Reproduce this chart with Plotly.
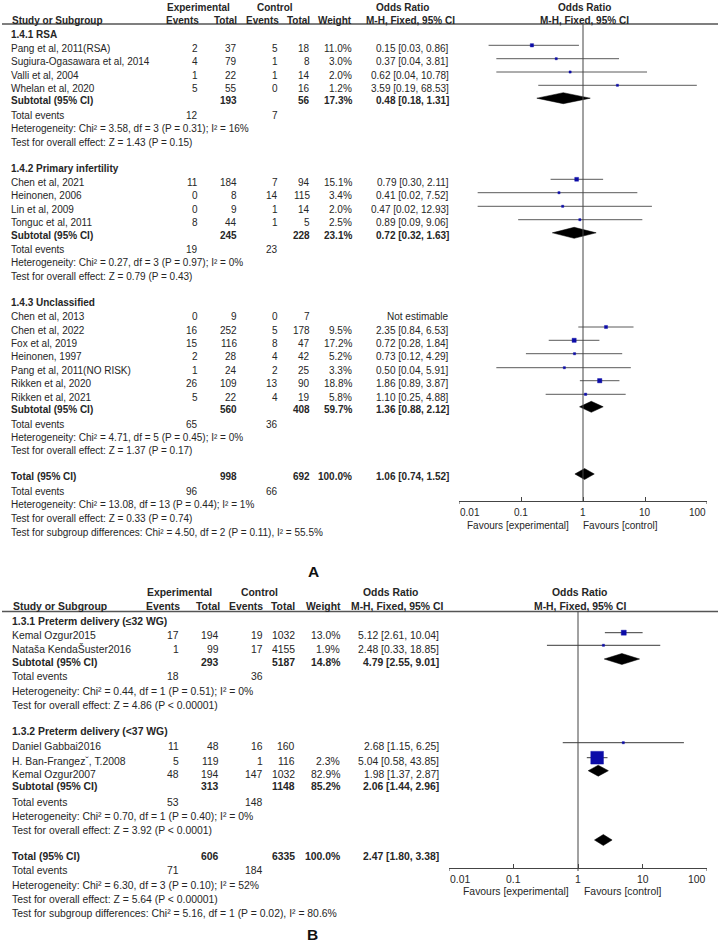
import math
import plotly.graph_objects as go

W, H = 720, 948
FONT = "Liberation Sans, Arial, sans-serif"
TXT = "#262626"
BLUE = "#0c0ca8"

# ======================= DATA: Panel A =======================
A_groups = ["1.4.1 RSA", "1.4.2 Primary infertility", "1.4.3 Unclassified"]
A_study = ["Pang et al, 2011(RSA)", "Sugiura-Ogasawara et al, 2014", "Valli et al, 2004", "Whelan et al, 2020",
           "Chen et al, 2021", "Heinonen, 2006", "Lin et al, 2009", "Tonguc et al, 2011",
           "Chen et al, 2013", "Chen et al, 2022", "Fox et al, 2019", "Heinonen, 1997",
           "Pang et al, 2011(NO RISK)", "Rikken et al, 2020", "Rikken et al, 2021"]
A_group_of = [0, 0, 0, 0, 1, 1, 1, 1, 2, 2, 2, 2, 2, 2, 2]
A_exp_ev = [2, 4, 1, 5, 11, 0, 0, 8, 0, 16, 15, 2, 1, 26, 5]
A_exp_tot = [37, 79, 22, 55, 184, 8, 9, 44, 9, 252, 116, 28, 24, 109, 22]
A_ctl_ev = [5, 1, 1, 0, 7, 14, 1, 1, 0, 5, 8, 4, 2, 13, 4]
A_ctl_tot = [18, 8, 14, 16, 94, 115, 14, 5, 7, 178, 47, 42, 25, 90, 19]
A_weight = [11.0, 3.0, 2.0, 1.2, 15.1, 3.4, 2.0, 2.5, None, 9.5, 17.2, 5.2, 3.3, 18.8, 5.8]
A_or = [0.15, 0.37, 0.62, 3.59, 0.79, 0.41, 0.47, 0.89, None, 2.35, 0.72, 0.73, 0.50, 1.86, 1.10]
A_lo = [0.03, 0.04, 0.04, 0.19, 0.30, 0.02, 0.02, 0.09, None, 0.84, 0.28, 0.12, 0.04, 0.89, 0.25]
A_hi = [0.86, 3.81, 10.78, 68.53, 2.11, 7.52, 12.93, 9.06, None, 6.53, 1.84, 4.29, 5.91, 3.87, 4.88]

A_sub_exp_tot = [193, 245, 560]
A_sub_ctl_tot = [56, 228, 408]
A_sub_weight = [17.3, 23.1, 59.7]
A_sub_or = [0.48, 0.72, 1.36]
A_sub_lo = [0.18, 0.32, 0.88]
A_sub_hi = [1.31, 1.63, 2.12]
A_sub_exp_ev = [12, 19, 65]
A_sub_ctl_ev = [7, 23, 36]
A_sub_het = ["Heterogeneity: Chi² = 3.58, df = 3 (P = 0.31); I² = 16%",
             "Heterogeneity: Chi² = 0.27, df = 3 (P = 0.97); I² = 0%",
             "Heterogeneity: Chi² = 4.71, df = 5 (P = 0.45); I² = 0%"]
A_sub_z = ["Test for overall effect: Z = 1.43 (P = 0.15)",
           "Test for overall effect: Z = 0.79 (P = 0.43)",
           "Test for overall effect: Z = 1.37 (P = 0.17)"]
A_total = [998, 692, 100.0]          # exp total, ctl total, weight
A_total_ci = [1.06, 0.74, 1.52]
A_total_events = [96, 66]
A_total_het = "Heterogeneity: Chi² = 13.08, df = 13 (P = 0.44); I² = 1%"
A_total_z = "Test for overall effect: Z = 0.33 (P = 0.74)"
A_total_sub = "Test for subgroup differences: Chi² = 4.50, df = 2 (P = 0.11), I² = 55.5%"

# ======================= DATA: Panel B =======================
B_groups = ["1.3.1 Preterm delivery (≤32 WG)", "1.3.2 Preterm delivery (&lt;37 WG)"]
B_study = ["Kemal Ozgur2015", "Nataša KendaŠuster2016", "Daniel Gabbai2016",
           "H. Ban-Frangezˇ, T.2008", "Kemal Ozgur2007"]
B_group_of = [0, 0, 1, 1, 1]
B_exp_ev = [17, 1, 11, 5, 48]
B_exp_tot = [194, 99, 48, 119, 194]
B_ctl_ev = [19, 17, 16, 1, 147]
B_ctl_tot = [1032, 4155, 160, 116, 1032]
B_weight = [13.0, 1.9, None, 2.3, 82.9]
B_or = [5.12, 2.48, 2.68, 5.04, 1.98]
B_lo = [2.61, 0.33, 1.15, 0.58, 1.37]
B_hi = [10.04, 18.85, 6.25, 43.85, 2.87]

B_sub_exp_tot = [293, 313]
B_sub_ctl_tot = [5187, 1148]
B_sub_weight = [14.8, 85.2]
B_sub_or = [4.79, 2.06]
B_sub_lo = [2.55, 1.44]
B_sub_hi = [9.01, 2.96]
B_sub_exp_ev = [18, 53]
B_sub_ctl_ev = [36, 148]
B_sub_het = ["Heterogeneity: Chi² = 0.44, df = 1 (P = 0.51); I² = 0%",
             "Heterogeneity: Chi² = 0.70, df = 1 (P = 0.40); I² = 0%"]
B_sub_z = ["Test for overall effect: Z = 4.86 (P &lt; 0.00001)",
           "Test for overall effect: Z = 3.92 (P &lt; 0.0001)"]
B_total = [606, 6335, 100.0]
B_total_ci = [2.47, 1.80, 3.38]
B_total_events = [71, 184]
B_total_het = "Heterogeneity: Chi² = 6.30, df = 3 (P = 0.10); I² = 52%"
B_total_z = "Test for overall effect: Z = 5.64 (P &lt; 0.00001)"
B_total_sub = "Test for subgroup differences: Chi² = 5.16, df = 1 (P = 0.02), I² = 80.6%"
# squares as drawn in panel B (study indices shown in the plot)
B_plot_idx = [0, 1, 3, 4]

# axis ticks
TICK_VALS = [0.01, 0.1, 1, 10, 100]
TICK_TEXT = ["0.01", "0.1", "1", "10", "100"]

# ======================= LAYOUT POSITIONS (pixels) =======================
A_y_head = [7, 20.5]
A_rule = 24
A_y_group = [34, 168.3, 302.3]
A_y_study = [48.3, 61.7, 75, 88.3, 182.3, 195.7, 209.3, 222.7,
             316, 330, 343.3, 356.7, 370.7, 383.7, 397.3]
A_y_sub = [100.7, 235.3, 409.3]
A_y_events = [115.3, 249.3, 424]
A_y_het = [128.7, 262.7, 437.3]
A_y_z = [142.7, 276.7, 450.7]
A_y_total = [476, 491, 504.3, 518.3, 532.3]
A_col = dict(name=10, ee=198.5, et=238, ce=279, ct=310.5, w=352.5, orr=449.5)
A_axis_y = 501
A_dom = [459, 707]

B_y_head = [592.7, 606.5]
B_rule = 611.5
B_y_group = [621.7, 731]
B_y_study = [635, 649.3, 746, 761, 774.3]
B_y_sub = [662.3, 786.7]
B_y_events = [676.7, 802.3]
B_y_het = [691, 816]
B_y_z = [705, 830]
B_y_total = [856.7, 870.7, 885, 899, 913.3]
B_col = dict(name=11, ee=180, et=220, ce=263.5, ct=295.5, w=340.5, orr=439.5)
B_axis_y = 868
B_dom = [449, 707]
B_mark_y = [632.7, 645.3, 742.7, 757.7]
B_diam_y = [659, 770.7]
B_total_diam_y = 840

FS_A = 10.0
FS_B = 10.4

ann = []


def T(x, y, s, anchor="left", size=FS_A, bold=False, color=TXT):
    ann.append(dict(x=x / W, y=y, xref="paper", yref="y",
                    text=f"<b>{s}</b>" if bold else s, showarrow=False,
                    xanchor=anchor, yanchor="middle", borderpad=0,
                    font=dict(family=FONT, size=size, color=color)))


def fmt_ci(o, l, h):
    return f"{o:.2f} [{l:.2f}, {h:.2f}]"


def fmt_w(w):
    return f"{w:.1f}%"


def panel_text(P):
    c, fs = P["col"], P["fs"]
    y1, y2 = P["y_head"]
    T(P["hx"]["exp"], y1, "Experimental", "center", fs, True)
    T(P["hx"]["ctl"], y1, "Control", "center", fs, True)
    T(P["hx"]["or1"], y1, "Odds Ratio", "center", fs, True)
    T(P["hx"]["plot"], y1, "Odds Ratio", "center", fs, True)
    T(c["name"] + 1, y2, "Study or Subgroup", "left", fs, True)
    T(P["hx"]["ee"], y2, "Events", "right", fs, True)
    T(P["hx"]["et"], y2, "Total", "right", fs, True)
    T(P["hx"]["ce"], y2, "Events", "right", fs, True)
    T(P["hx"]["ct"], y2, "Total", "right", fs, True)
    T(P["hx"]["w"], y2, "Weight", "right", fs, True)
    T(P["hx"]["or2"], y2, "M-H, Fixed, 95% CI", "center", fs, True)
    T(P["hx"]["plot2"], y2, "M-H, Fixed, 95% CI", "center", fs, True)
    D = P["data"]
    for g, gname in enumerate(D["groups"]):
        T(c["name"], P["y_group"][g], gname, "left", fs, True)
        for i, s in enumerate(D["study"]):
            if D["group_of"][i] != g:
                continue
            y = P["y_study"][i]
            T(c["name"], y, s, "left", fs)
            T(c["ee"], y, str(D["exp_ev"][i]), "right", fs)
            T(c["et"], y, str(D["exp_tot"][i]), "right", fs)
            T(c["ce"], y, str(D["ctl_ev"][i]), "right", fs)
            T(c["ct"], y, str(D["ctl_tot"][i]), "right", fs)
            if D["weight"][i] is not None:
                T(c["w"], y, fmt_w(D["weight"][i]), "right", fs)
            if D["or"][i] is None:
                T(c["orr"], y, "Not estimable", "right", fs)
            else:
                T(c["orr"], y, fmt_ci(D["or"][i], D["lo"][i], D["hi"][i]), "right", fs)
        y = P["y_sub"][g]
        T(c["name"], y, "Subtotal (95% CI)", "left", fs, True)
        T(c["et"], y, str(D["sub_exp_tot"][g]), "right", fs, True)
        T(c["ct"], y, str(D["sub_ctl_tot"][g]), "right", fs, True)
        T(c["w"], y, fmt_w(D["sub_weight"][g]), "right", fs, True)
        T(c["orr"], y, fmt_ci(D["sub_or"][g], D["sub_lo"][g], D["sub_hi"][g]), "right", fs, True)
        y = P["y_events"][g]
        T(c["name"], y, "Total events", "left", fs)
        T(c["ee"], y, str(D["sub_exp_ev"][g]), "right", fs)
        T(c["ce"], y, str(D["sub_ctl_ev"][g]), "right", fs)
        T(c["name"], P["y_het"][g], D["sub_het"][g], "left", fs)
        T(c["name"], P["y_z"][g], D["sub_z"][g], "left", fs)
    yt = P["y_total"]
    T(c["name"], yt[0], "Total (95% CI)", "left", fs, True)
    T(c["et"], yt[0], str(D["total"][0]), "right", fs, True)
    T(c["ct"], yt[0], str(D["total"][1]), "right", fs, True)
    T(c["w"], yt[0], fmt_w(D["total"][2]), "right", fs, True)
    T(c["orr"], yt[0], fmt_ci(*D["total_ci"]), "right", fs, True)
    T(c["name"], yt[1], "Total events", "left", fs)
    T(c["ee"], yt[1], str(D["total_events"][0]), "right", fs)
    T(c["ce"], yt[1], str(D["total_events"][1]), "right", fs)
    T(c["name"], yt[2], D["total_het"], "left", fs)
    T(c["name"], yt[3], D["total_z"], "left", fs)
    T(c["name"], yt[4], D["total_sub"], "left", fs)


DA = dict(groups=A_groups, study=A_study, group_of=A_group_of, exp_ev=A_exp_ev, exp_tot=A_exp_tot,
          ctl_ev=A_ctl_ev, ctl_tot=A_ctl_tot, weight=A_weight, **{"or": A_or}, lo=A_lo, hi=A_hi,
          sub_exp_tot=A_sub_exp_tot, sub_ctl_tot=A_sub_ctl_tot, sub_weight=A_sub_weight,
          sub_or=A_sub_or, sub_lo=A_sub_lo, sub_hi=A_sub_hi, sub_exp_ev=A_sub_exp_ev,
          sub_ctl_ev=A_sub_ctl_ev, sub_het=A_sub_het, sub_z=A_sub_z, total=A_total,
          total_ci=A_total_ci, total_events=A_total_events, total_het=A_total_het,
          total_z=A_total_z, total_sub=A_total_sub)
DB = dict(groups=B_groups, study=B_study, group_of=B_group_of, exp_ev=B_exp_ev, exp_tot=B_exp_tot,
          ctl_ev=B_ctl_ev, ctl_tot=B_ctl_tot, weight=B_weight, **{"or": B_or}, lo=B_lo, hi=B_hi,
          sub_exp_tot=B_sub_exp_tot, sub_ctl_tot=B_sub_ctl_tot, sub_weight=B_sub_weight,
          sub_or=B_sub_or, sub_lo=B_sub_lo, sub_hi=B_sub_hi, sub_exp_ev=B_sub_exp_ev,
          sub_ctl_ev=B_sub_ctl_ev, sub_het=B_sub_het, sub_z=B_sub_z, total=B_total,
          total_ci=B_total_ci, total_events=B_total_events, total_het=B_total_het,
          total_z=B_total_z, total_sub=B_total_sub)

PA = dict(data=DA, col=A_col, fs=FS_A, y_head=A_y_head, y_group=A_y_group, y_study=A_y_study,
          y_sub=A_y_sub, y_events=A_y_events, y_het=A_y_het, y_z=A_y_z, y_total=A_y_total,
          hx=dict(exp=198, ctl=274.5, or1=402, plot=584, ee=199.5, et=238, ce=279.5, ct=310.5,
                  w=352.5, or2=410, plot2=584))
PB = dict(data=DB, col=B_col, fs=FS_B, y_head=B_y_head, y_group=B_y_group, y_study=B_y_study,
          y_sub=B_y_sub, y_events=B_y_events, y_het=B_y_het, y_z=B_y_z, y_total=B_y_total,
          hx=dict(exp=179, ctl=259, or1=390, plot=579, ee=181, et=221, ce=264, ct=296,
                  w=342, or2=397, plot2=580))

panel_text(PA)
panel_text(PB)

# panel letters
T(313, 571, "A", "center", 15.5, True, "#111")
T(312, 934, "B", "center", 15.5, True, "#111")

# ======================= PLOT MARKS =======================
fig = go.Figure()


def add_marks(xa, ors, los, his, ws, ys, k, lc):
    cx, cy = [], []
    for l, h, y in zip(los, his, ys):
        cx += [l, h, None]
        cy += [y, y, None]
    fig.add_trace(go.Scatter(x=cx, y=cy, xaxis=xa, yaxis="y", mode="lines",
                             line=dict(color=lc, width=1), hoverinfo="skip"))
    fig.add_trace(go.Scatter(x=ors, y=ys, xaxis=xa, yaxis="y", mode="markers",
                             marker=dict(symbol="square", color=BLUE, opacity=1,
                                         size=[max(2.2, k * math.sqrt(w)) for w in ws],
                                         line=dict(width=0.4, color=BLUE)), hoverinfo="skip"))


def add_diamonds(xa, ors, los, his, ys, hh=5.5):
    dx, dy = [], []
    for o, l, h, y in zip(ors, los, his, ys):
        dx += [l, o, h, o, l, None]
        dy += [y, y - hh, y, y + hh, y, None]
    fig.add_trace(go.Scatter(x=dx, y=dy, xaxis=xa, yaxis="y", mode="lines", fill="toself",
                             fillcolor="black", line=dict(color="black", width=0.5),
                             hoverinfo="skip"))


# Panel A
idx = [i for i, o in enumerate(A_or) if o is not None]
add_marks("x", [A_or[i] for i in idx], [A_lo[i] for i in idx], [A_hi[i] for i in idx],
          [A_weight[i] for i in idx], [A_y_study[i] - 3 for i in idx], 1.0, "#5a5a5a")
add_diamonds("x", A_sub_or + [A_total_ci[0]], A_sub_lo + [A_total_ci[1]],
             A_sub_hi + [A_total_ci[2]], [y - 2.5 for y in A_y_sub] + [A_y_total[0] - 2])

# Panel B
add_marks("x2", [B_or[i] for i in B_plot_idx], [B_lo[i] for i in B_plot_idx],
          [B_hi[i] for i in B_plot_idx], [B_weight[i] for i in B_plot_idx], B_mark_y, 1.4,
          "#3a3a3a")
add_diamonds("x2", B_sub_or + [B_total_ci[0]], B_sub_lo + [B_total_ci[1]],
             B_sub_hi + [B_total_ci[2]], B_diam_y + [B_total_diam_y])

# tick labels and favours labels (through axis scale)
for xa, ty, fy, fexp, fctl in (("x", 512.7, 525, 0.62, 0.96), ("x2", 879, 891, 0.74, 1.18)):
    fsz = FS_A if xa == "x" else FS_B
    for j, (v, t) in enumerate(zip(TICK_VALS, TICK_TEXT)):
        anc = "left" if j == 0 else ("right" if j == len(TICK_VALS) - 1 else "center")
        ann.append(dict(x=math.log10(v), y=ty, xref=xa, yref="y", text=t, showarrow=False,
                        xanchor=anc, yanchor="middle", borderpad=0,
                        font=dict(family=FONT, size=fsz, color=TXT)))
    ann.append(dict(x=math.log10(fexp), y=fy, xref=xa, yref="y", text="Favours [experimental]",
                    showarrow=False, xanchor="right", yanchor="middle", borderpad=0,
                    font=dict(family=FONT, size=fsz, color=TXT)))
    ann.append(dict(x=math.log10(fctl), y=fy, xref=xa, yref="y",
                    text="Favours [control]", showarrow=False, xanchor="left",
                    yanchor="middle", borderpad=0, font=dict(family=FONT, size=fsz, color=TXT)))

shapes = [
    dict(type="line", xref="paper", yref="y", x0=2 / W, x1=718 / W, y0=A_rule, y1=A_rule,
         line=dict(color="#555", width=1.4)),
    dict(type="line", xref="paper", yref="y", x0=2 / W, x1=718 / W, y0=B_rule, y1=B_rule,
         line=dict(color="#555", width=1.4)),
    dict(type="line", xref="x", yref="y", x0=1, x1=1, y0=A_rule, y1=A_axis_y,
         line=dict(color="#444", width=1)),
    dict(type="line", xref="x2", yref="y", x0=1, x1=1, y0=B_rule, y1=B_axis_y + 3,
         line=dict(color="#444", width=1)),
]
# end ticks of the scale extend below the axis line as well
for xa, ay in (("x", A_axis_y), ("x2", B_axis_y)):
    for v in (TICK_VALS[0], TICK_VALS[-1]):
        shapes.append(dict(type="line", xref=xa, yref="y", x0=v, x1=v, y0=ay, y1=ay + 3,
                           line=dict(color="#444", width=1)))

axis_common = dict(type="log", range=[-2, 2], showgrid=False, zeroline=False, showline=True,
                   linecolor="#444", linewidth=1, ticks="inside", ticklen=4, tickcolor="#444",
                   tickvals=TICK_VALS, showticklabels=False, anchor="free", fixedrange=True)

fig.update_layout(
    width=W, height=H, margin=dict(l=0, r=0, t=0, b=0),
    paper_bgcolor="white", plot_bgcolor="rgba(0,0,0,0)", showlegend=False,
    xaxis=dict(domain=[A_dom[0] / W, A_dom[1] / W], position=1 - A_axis_y / H, **axis_common),
    xaxis2=dict(domain=[B_dom[0] / W, B_dom[1] / W], position=1 - B_axis_y / H, **axis_common),
    yaxis=dict(domain=[0, 1], range=[H, 0], visible=False, fixedrange=True, anchor="x"),
    annotations=ann, shapes=shapes,
)

# remove the browser's default 8px page margin so the 720x948 figure fills the window
fig.write_html("out.html", config={"displayModeBar": False},
               post_script="document.body.style.margin='0';document.body.style.overflow='hidden';")
